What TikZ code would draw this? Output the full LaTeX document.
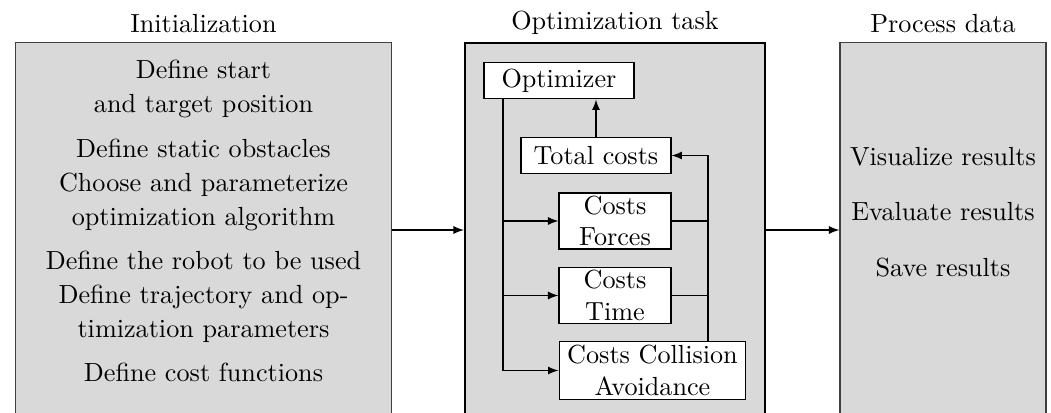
\documentclass[tikz,border=0pt]{standalone}
\usepackage{amsmath}
\usepackage{tikz}
\usetikzlibrary{arrows}

\tikzset{
  stage/.style={draw=black!75, fill=black!15, minimum width=#1, minimum height=142.9pt, inner sep=0pt},
  block/.style={draw, fill=white, align=center, inner sep=1pt},
  item/.style={align=center, inner sep=0pt},
  title/.style={anchor=base, inner sep=0pt},
  link/.style={-latex, line width=0.4pt}
}

\begin{document}
\begin{tikzpicture}[x=0.382pt,y=0.382pt,yscale=-1,xscale=1]
\useasboundingbox (0,0) rectangle (1051,412);

% Stages
\node [stage=143.3pt] (init) at (203.5,230) {};
\node [stage=114.6pt, draw=black, line width=0.8pt] (task) at (615,230) {};
\node [stage=78.7pt] (post) at (943,230) {};

% Titles
\path (init.north) ++(0,-10) node [title] (initT) {Initialization};
\path (task.north) ++(0,-12) node [title] (taskT) {Optimization task};
\path (post.north) ++(0,-10) node [title] (postT) {Process data};

% Initialization steps
\node [item] (start) at (203.5,88.5) {Define start\\[1pt]and target position};
\node [item] (obst) at (203.5,148) {Define static obstacles};
\node [item] (algo) at (203.5,202) {Choose and parameterize\\[1pt]optimization algorithm};
\node [item] (robot) at (203.5,260) {Define the robot to be used};
\node [item] (traj) at (203.5,314) {Define trajectory and op-\\[1pt]timization parameters};
\node [item] (costf) at (203.5,372) {Define cost functions};

% Processing steps
\node [item] (vis) at (943,157) {Visualize results};
\node [item] (eval) at (943,212) {Evaluate results};
\node [item] (save) at (943,268) {Save results};

% Optimization loop
\node [block, minimum width=57.3pt, minimum height=14.1pt] (opt) at (559,80.5) {Optimizer};
\node [block, minimum width=57.3pt, minimum height=14.1pt] (total) at (596,155.5) {Total costs};
\node [block, minimum width=42.8pt, minimum height=21.4pt] (forces) at (615,221) {Costs\\Forces};
\node [block, minimum width=42.8pt, minimum height=21.2pt] (time) at (615,295.5) {Costs\\Time};
\node [block, minimum width=71.4pt, minimum height=21.8pt] (coll) at (652.5,370.5) {Costs Collision\\Avoidance};

\coordinate (trunk) at (503,370.5);
\coordinate (bus) at (708,155.5);

\draw [link] (opt.south -| trunk) |- (coll.west);
\draw [link] (trunk |- forces.west) -- (forces.west);
\draw [link] (trunk |- time.west) -- (time.west);
\draw [link] (total.north) -- (opt.south -| total.north);
\draw [link] (coll.north -| bus) |- (total.east);
\draw (forces.east) -- (forces.east -| bus);
\draw (time.east) -- (time.east -| bus);

% Stage transitions
\draw [link] (init.east) -- (task.west);
\draw [link] (task.east) -- (post.west);
\end{tikzpicture}
\end{document}
